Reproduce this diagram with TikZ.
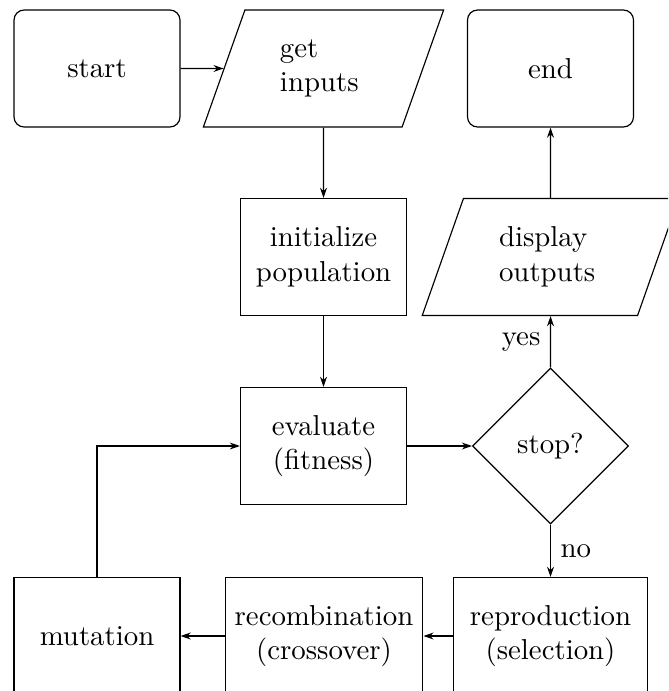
\documentclass[tikz,border=0pt]{standalone}
\usetikzlibrary{shapes.geometric,arrows.meta}

\tikzset{
  base/.style={draw, line width=0.4pt, inner sep=3.33pt},
  terminal/.style={base, rounded corners=3.5pt, minimum width=57.6pt, minimum height=40.6pt},
  process/.style={base, rectangle, align=center, minimum width=57.6pt, minimum height=40.6pt},
  widebox/.style={process, minimum width=67.5pt},
  io/.style={base, trapezium, trapezium left angle=70, trapezium right angle=110,
             trapezium stretches=true, minimum height=40.6pt, align=left},
  decision/.style={base, diamond, aspect=1, minimum width=54.1pt, minimum height=54.1pt},
  flow/.style={-{Stealth[length=3.5pt,width=2.4pt]}, line width=0.4pt},
}

\begin{document}
\begin{tikzpicture}[x=0.347pt, y=-0.347pt]
  \useasboundingbox (0,0) rectangle (668,691);
  \clip (0,0) rectangle (668,691);

  % top row
  \node[terminal] (start) at (97,68.5) {start};
  \node[io, minimum width=83.6pt, text width=30.2pt] (inputs) at (323.5,68.5) {get\\inputs};
  \node[terminal] (stopend) at (550.5,68.5) {end};

  % second row
  \node[process] (init) at (323.5,257) {initialize\\population};
  \node[io, minimum width=89.2pt, text width=35.7pt] (outputs) at (550.5,257) {display\\outputs};

  % third row
  \node[process] (eval) at (323.5,446) {evaluate\\(fitness)};
  \node[decision] (check) at (550.5,446) {stop?};

  % bottom row
  \node[process] (mut) at (97,636) {mutation};
  \node[widebox] (recomb) at (324,636) {recombination\\(crossover)};
  \node[widebox] (repro) at (550.5,636) {reproduction\\(selection)};

  % connectors
  \draw[flow] (start) -- (inputs);
  \draw[flow] (inputs) -- (init);
  \draw[flow] (init) -- (eval);
  \draw[flow] (eval) -- (check);
  \draw[flow] (check) -- node[left] {yes} (outputs);
  \draw[flow] (outputs) -- (stopend);
  \draw[flow] (check) -- node[right] {no} (repro);
  \draw[flow] (repro) -- (recomb);
  \draw[flow] (recomb) -- (mut);
  \draw[flow] (mut.north) |- (eval.west);
\end{tikzpicture}
\end{document}
